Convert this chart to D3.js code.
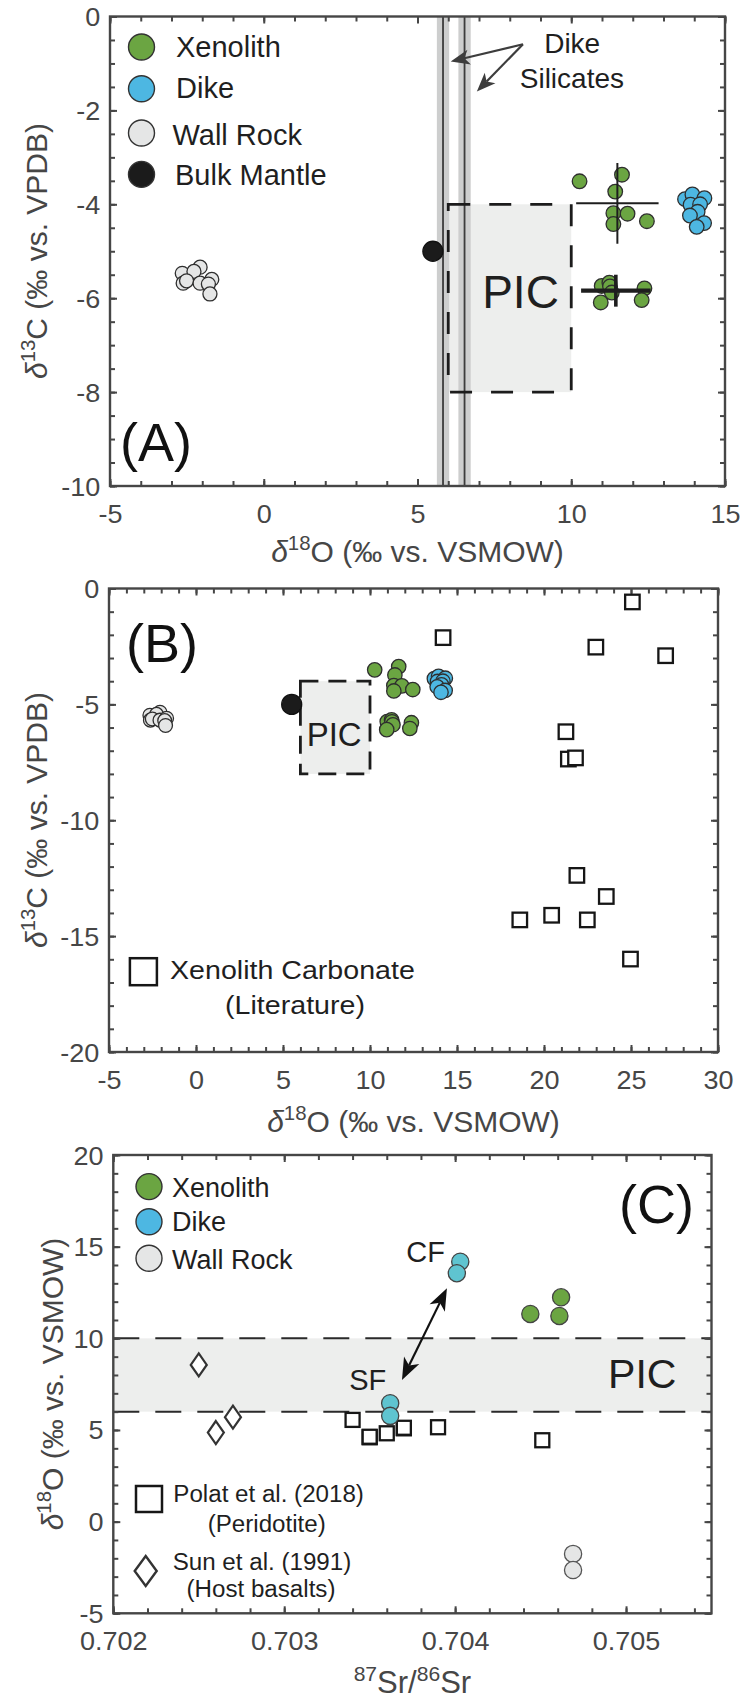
<!DOCTYPE html>
<html>
<head>
<meta charset="utf-8">
<script src="https://cdn.jsdelivr.net/npm/d3@7"></script>
<style>
  html, body { margin: 0; padding: 0; background: #fff; }
  svg { display: block; font-family: "Liberation Sans", Arial, Helvetica, sans-serif; }
</style>
</head>
<body>
<svg id="fig" width="743" height="1702"></svg>
<script>
// ---------------- data ----------------
// Panels A and B: δ18O (‰ vs. VSMOW) against δ13C (‰ vs. VPDB)
const xenolithO = [10.27, 11.65, 11.43, 11.37, 11.83, 11.37, 12.46, 10.99, 11.24, 11.26, 11.32, 10.96, 12.38, 12.29];
const xenolithC = [-3.51, -3.37, -3.73, -4.19, -4.20, -4.42, -4.36, -5.74, -5.67, -5.75, -5.88, -6.09, -5.79, -6.04];
const dikeO = [13.70, 13.94, 14.33, 13.88, 14.19, 14.11, 13.86, 14.32, 14.08];
const dikeC = [-3.89, -3.79, -3.87, -4.01, -4.00, -4.16, -4.24, -4.40, -4.48];
const wallO = [-2.65, -2.07, -2.27, -2.62, -2.51, -2.07, -1.69, -1.80, -1.75];
const wallC = [-5.47, -5.34, -5.43, -5.68, -5.63, -5.68, -5.60, -5.70, -5.91];
const mantleO = [5.5];
const mantleC = [-5.0];
// xenolith group means with ±1 SD bars
const groupMeanO = [11.5, 11.45];
const groupMeanC = [-3.98, -5.84];
const groupSdO = [1.34, 1.13];
const groupSdC = [0.86, 0.34];
// dike silicate δ18O values with their uncertainty
const silicateO = [5.83, 6.53];
const silicateSd = [0.2, 0.2];
// primary igneous carbonate field
const picO = [6, 10];
const picC = [-8, -4];
// literature xenolith carbonates
const litCarbO = [25.08, 14.2, 22.98, 26.99, 21.26, 21.4, 21.81, 21.89, 23.58, 20.44, 18.61, 22.49, 24.97];
const litCarbC = [-0.58, -2.12, -2.53, -2.9, -6.18, -7.36, -7.31, -12.38, -13.29, -14.1, -14.3, -14.3, -15.99];

// Panel C: 87Sr/86Sr against δ18O
const cXenSr = [0.70444, 0.70462, 0.70461];
const cXenO = [11.33, 12.24, 11.22];
const cDikeSr = [0.70403, 0.70401, 0.70362, 0.70362];
const cDikeO = [14.18, 13.55, 6.46, 5.77];
const cWallSr = [0.70469, 0.70469];
const cWallO = [-1.76, -2.64];
const polatSr = [0.70340, 0.70350, 0.70350, 0.70360, 0.70370, 0.70370, 0.70390, 0.70451];
const polatO = [5.55, 4.60, 4.63, 4.82, 5.09, 5.12, 5.15, 4.44];
const sunSr = [0.70250, 0.70260, 0.70270];
const sunO = [8.55, 4.86, 5.70];
const picBandO = [6, 10];

// tick labels
const aXTicks = [-5, 0, 5, 10, 15];
const aYTicks = [-10, -8, -6, -4, -2, 0];
const bXTicks = [-5, 0, 5, 10, 15, 20, 25, 30];
const bYTicks = [-20, -15, -10, -5, 0];
const cXTicks = [0.702, 0.703, 0.704, 0.705];
const cYTicks = [-5, 0, 5, 10, 15, 20];

// ---------------- styles ----------------
const INK = "#464646";
const TXT = "#1f1f1f";
const GREEN = "#6ba542";
const BLUE = "#4db7e2";
const CYAN = "#5fc4d0";
const WALL = "#e5e6e6";
const MANTLE = "#1b1b1b";
const PIC_FILL = "#edeeed";

const svg = d3.select("#fig");

// ---------------- helpers ----------------
function text(g, x, y, str, size, o = {}) {
  let tr = `translate(${x},${y})`;
  if (o.rot) tr += ` rotate(${o.rot})`;
  if (o.sx) tr += ` scale(${o.sx},1)`;
  const t = g.append("text")
    .attr("transform", tr)
    .attr("font-size", size)
    .attr("fill", o.fill || TXT)
    .attr("text-anchor", o.anchor || "start");
  if (str != null) t.text(str);
  return t;
}

function deltaLabel(t, mass, rest) {
  t.append("tspan").attr("font-style", "italic").text("δ");
  t.append("tspan").attr("font-size", "0.68em").attr("dy", -12).text(mass);
  t.append("tspan").attr("dy", 12).text(rest);
}

function steps(lo, hi, step) {
  const n = Math.floor((hi - lo) / step + 1e-6);
  return d3.range(n + 1).map(i => +(lo + i * step).toFixed(6));
}

function frameAxes(g, x, y, majX, stepX, majY, stepY, fmtX) {
  const [xl, xr] = x.range();
  const [yb, yt] = y.range();
  const minX = steps(x.domain()[0], x.domain()[1], stepX);
  const minY = steps(y.domain()[0], y.domain()[1], stepY);
  const put = (gen, tr, vals, size, fmt) => {
    const a = g.append("g").attr("transform", tr)
      .call(gen.tickValues(vals).tickSize(size).tickFormat(fmt || ""));
    a.select(".domain").remove();
    a.selectAll(".tick line").attr("stroke", INK).attr("stroke-width", 2);
    a.attr("font-family", null).attr("font-size", 25);
    a.selectAll("text").attr("fill", INK);
    return a;
  };
  put(d3.axisBottom(x), `translate(0,${yb})`, minX, -5);
  put(d3.axisTop(x), `translate(0,${yt})`, minX, -5);
  put(d3.axisLeft(y), `translate(${xl},0)`, minY, -5);
  put(d3.axisRight(y), `translate(${xr},0)`, minY, -5);
  put(d3.axisTop(x), `translate(0,${yt})`, majX, -7);
  put(d3.axisRight(y), `translate(${xr},0)`, majY, -7);
  const bx = put(d3.axisBottom(x), `translate(0,${yb})`, majX, -7, fmtX || (d => String(d)));
  bx.selectAll("text").attr("y", 37).attr("dy", null).attr("transform", "scale(1.08,1)");
  const ly = put(d3.axisLeft(y), `translate(${xl},0)`, majY, -7, d => String(d));
  ly.selectAll("text").attr("x", -9).attr("dy", "0.36em").attr("transform", "scale(1.08,1)");
  g.append("rect")
    .attr("x", xl).attr("y", yt).attr("width", xr - xl).attr("height", yb - yt)
    .attr("fill", "none").attr("stroke", INK).attr("stroke-width", 2.4);
}

function arrowHead(g, x0, y0, x1, y1, L, W, notch, color) {
  const a = Math.atan2(y1 - y0, x1 - x0);
  const ux = Math.cos(a), uy = Math.sin(a), px = -uy, py = ux;
  const bx = x1 - ux * L, by = y1 - uy * L;
  const nx = x1 - ux * (L - notch), ny = y1 - uy * (L - notch);
  g.append("path")
    .attr("d", d3.line()([[x1, y1], [bx + px * W, by + py * W], [nx, ny], [bx - px * W, by - py * W]]) + "Z")
    .attr("fill", color).attr("stroke", "none");
  return [nx, ny];
}

function zipPts(xs, ys) { return xs.map((v, i) => [v, ys[i]]); }

function circles(g, pts, x, y, r, fill, stroke) {
  g.append("g").selectAll("circle").data(pts).join("circle")
    .attr("cx", d => x(d[0])).attr("cy", d => y(d[1])).attr("r", r)
    .attr("fill", fill).attr("stroke", stroke || "#2e2e2e").attr("stroke-width", 1.3);
}

function squares(g, pts, x, y, s) {
  g.append("g").selectAll("rect").data(pts).join("rect")
    .attr("x", d => x(d[0]) - s / 2).attr("y", d => y(d[1]) - s / 2)
    .attr("width", s).attr("height", s)
    .attr("fill", "#fff").attr("stroke", "#161616").attr("stroke-width", 2.3);
}

function diamondPath(cx, cy, w, h) {
  return d3.line()([[cx, cy - h], [cx + w, cy], [cx, cy + h], [cx - w, cy]]) + "Z";
}

function picBox(g, x, y, dash) {
  const x0 = x(picO[0]), x1 = x(picO[1]), y0 = y(picC[1]), y1 = y(picC[0]);
  g.append("rect").attr("x", x0).attr("y", y0).attr("width", x1 - x0).attr("height", y1 - y0)
    .attr("fill", PIC_FILL);
  return () => g.append("rect").attr("x", x0).attr("y", y0).attr("width", x1 - x0).attr("height", y1 - y0)
    .attr("fill", "none").attr("stroke", "#1c1c1c").attr("stroke-width", 2.8)
    .attr("stroke-dasharray", dash);
}

function oxygenScatter(g, x, y, rSmall, rMantle) {
  circles(g, zipPts(wallO, wallC), x, y, rSmall - 0.3, WALL);
  circles(g, zipPts(mantleO, mantleC), x, y, rMantle, MANTLE, "#111");
  circles(g, zipPts(xenolithO, xenolithC), x, y, rSmall, GREEN);
  circles(g, zipPts(dikeO, dikeC), x, y, rSmall, BLUE);
}

// ================= Panel A =================
{
  const g = svg.append("g");
  const x = d3.scaleLinear([-5, 15], [110, 725]);
  const y = d3.scaleLinear([-10, 0], [486, 16.5]);

  const drawBoxEdge = picBox(g, x, y, "22,19");

  // dike silicate values with uncertainty bands
  silicateO.forEach((v, i) => {
    g.append("rect")
      .attr("x", x(v - silicateSd[i])).attr("y", y(0))
      .attr("width", x(v + silicateSd[i]) - x(v - silicateSd[i])).attr("height", y(-10) - y(0))
      .attr("fill", "#cdcece");
    g.append("line").attr("x1", x(v)).attr("x2", x(v)).attr("y1", y(0)).attr("y2", y(-10))
      .attr("stroke", "#3c3c3c").attr("stroke-width", 1.8);
  });
  drawBoxEdge();

  frameAxes(g, x, y, aXTicks, 1, aYTicks, 0.5);

  text(g, x(8.35), y(-6.2), "PIC", 46, { anchor: "middle" });

  oxygenScatter(g, x, y, 7.3, 10);

  // xenolith group mean ± SD
  groupMeanO.forEach((m, i) => {
    const w = i === 0 ? 2 : 4.2;
    g.append("line").attr("x1", x(m - groupSdO[i])).attr("x2", x(m + groupSdO[i]))
      .attr("y1", y(groupMeanC[i])).attr("y2", y(groupMeanC[i]))
      .attr("stroke", "#1e1e1e").attr("stroke-width", w);
    g.append("line").attr("x1", x(m)).attr("x2", x(m))
      .attr("y1", y(groupMeanC[i] + groupSdC[i])).attr("y2", y(groupMeanC[i] - groupSdC[i]))
      .attr("stroke", "#1e1e1e").attr("stroke-width", i === 0 ? 2 : 3.6);
  });

  // "Dike Silicates" callout
  const src = [x(8.43), y(-0.59)];
  [[6.08, -0.96], [6.93, -1.60]].forEach(([ox, oc]) => {
    const tip = [x(ox), y(oc)];
    const base = arrowHead(g, src[0], src[1], tip[0], tip[1], 19, 7.5, 5, "#3d3d3d");
    g.append("line").attr("x1", src[0]).attr("y1", src[1]).attr("x2", base[0]).attr("y2", base[1])
      .attr("stroke", "#3d3d3d").attr("stroke-width", 2.2);
  });
  text(g, x(10.03), y(-0.78), "Dike", 28, { anchor: "middle" });
  text(g, x(10.02), y(-1.53), "Silicates", 28, { anchor: "middle" });

  // legend
  const legA = [["Xenolith", GREEN, 47, 56.5, 176], ["Dike", BLUE, 88.7, 98, 176],
                ["Wall Rock", WALL, 133, 145, 172.5], ["Bulk Mantle", MANTLE, 174.4, 185, 175]];
  legA.forEach(([lab, col, cy, by, tx]) => {
    g.append("circle").attr("cx", 141.5).attr("cy", cy).attr("r", 13)
      .attr("fill", col).attr("stroke", "#333").attr("stroke-width", 1.4);
    text(g, tx, by, lab, 29);
  });

  text(g, 120, 461, "(A)", 54, { fill: "#111" });

  text(g, 417.5, 562, null, 30, { anchor: "middle", fill: INK }).call(t => deltaLabel(t, "18", "O (‰ vs. VSMOW)"));
  text(g, 47, 251, null, 30, { anchor: "middle", fill: INK, rot: -90 }).call(t => deltaLabel(t, "13", "C (‰ vs. VPDB)"));
}

// ================= Panel B =================
{
  const g = svg.append("g");
  const x = d3.scaleLinear([-5, 30], [109, 718]);
  const y = d3.scaleLinear([-20, 0], [1052, 588.5]);

  const drawBoxEdge = picBox(g, x, y, "18,10");
  drawBoxEdge();

  frameAxes(g, x, y, bXTicks, 1, bYTicks, 1);

  text(g, x(7.94), y(-6.78), "PIC", 33, { anchor: "middle" });

  oxygenScatter(g, x, y, 7.2, 10);
  squares(g, zipPts(litCarbO, litCarbC), x, y, 14.5);

  // legend
  g.append("rect").attr("x", 143.4 - 13.5).attr("y", 971.7 - 13.5).attr("width", 27).attr("height", 27)
    .attr("fill", "#fff").attr("stroke", "#161616").attr("stroke-width", 2.5);
  text(g, 170, 979, "Xenolith Carbonate", 26, { sx: 1.1 });
  text(g, 295, 1014, "(Literature)", 26, { anchor: "middle", sx: 1.1 });

  text(g, 126, 661.7, "(B)", 54, { fill: "#111" });

  text(g, 413.5, 1132, null, 30, { anchor: "middle", fill: INK }).call(t => deltaLabel(t, "18", "O (‰ vs. VSMOW)"));
  text(g, 47, 820, null, 30, { anchor: "middle", fill: INK, rot: -90 }).call(t => deltaLabel(t, "13", "C (‰ vs. VPDB)"));
}

// ================= Panel C =================
{
  const g = svg.append("g");
  const x = d3.scaleLinear([0.702, 0.7055], [113.3, 711.5]);
  const y = d3.scaleLinear([-5, 20], [1613.3, 1155]);
  const [xl, xr] = x.range();

  g.append("rect").attr("x", xl).attr("y", y(picBandO[1])).attr("width", xr - xl)
    .attr("height", y(picBandO[0]) - y(picBandO[1])).attr("fill", PIC_FILL);
  picBandO.forEach(v => {
    g.append("line").attr("x1", xl).attr("x2", xr).attr("y1", y(v)).attr("y2", y(v))
      .attr("stroke", "#2a2a2a").attr("stroke-width", 2).attr("stroke-dasharray", "26,16");
  });

  frameAxes(g, x, y, cXTicks, 0.0002, cYTicks, 1, d3.format(".3f"));

  text(g, x(0.705095), y(7.27), "PIC", 41, { anchor: "middle" });

  squares(g, zipPts(polatSr, polatO), x, y, 14);
  g.append("g").selectAll("path").data(zipPts(sunSr, sunO)).join("path")
    .attr("d", d => diamondPath(x(d[0]), y(d[1]), 8, 11.5))
    .attr("fill", "#fff").attr("stroke", "#333").attr("stroke-width", 2.2);

  circles(g, zipPts(cWallSr, cWallO), x, y, 8.6, WALL, "#555");
  circles(g, zipPts(cXenSr, cXenO), x, y, 8.6, GREEN, "#444");
  circles(g, zipPts(cDikeSr, cDikeO), x, y, 8.6, CYAN, "#444");

  // SF ↔ CF arrow
  const p0 = [x(0.703952), y(12.73)], p1 = [x(0.703689), y(7.73)];
  const b1 = arrowHead(g, p1[0], p1[1], p0[0], p0[1], 22, 8.5, 6, "#111");
  const b0 = arrowHead(g, p0[0], p0[1], p1[0], p1[1], 22, 8.5, 6, "#111");
  g.append("line").attr("x1", b1[0]).attr("y1", b1[1]).attr("x2", b0[0]).attr("y2", b0[1])
    .attr("stroke", "#111").attr("stroke-width", 2.2);
  text(g, x(0.703714), y(14.17), "CF", 29);
  text(g, x(0.70338), y(7.18), "SF", 29);

  // legends
  const legC = [["Xenolith", GREEN, 1186.6, 1197], ["Dike", BLUE, 1221.7, 1231], ["Wall Rock", WALL, 1258.3, 1269]];
  legC.forEach(([lab, col, cy, by]) => {
    g.append("circle").attr("cx", 149).attr("cy", cy).attr("r", 13)
      .attr("fill", col).attr("stroke", "#333").attr("stroke-width", 1.4);
    text(g, 172, by, lab, 27);
  });
  g.append("rect").attr("x", 149 - 13).attr("y", 1499 - 13).attr("width", 26).attr("height", 26)
    .attr("fill", "#fff").attr("stroke", "#161616").attr("stroke-width", 2.5);
  text(g, 173.3, 1502.3, "Polat et al. (2018)", 23, { sx: 1.05 });
  text(g, 266.7, 1531.7, "(Peridotite)", 23, { anchor: "middle", sx: 1.05 });
  g.append("path").attr("d", diamondPath(145.7, 1571, 11, 15))
    .attr("fill", "#fff").attr("stroke", "#333").attr("stroke-width", 2.4);
  text(g, 172.7, 1570, "Sun et al. (1991)", 23, { sx: 1.05 });
  text(g, 261, 1596.7, "(Host basalts)", 23, { anchor: "middle", sx: 1.05 });

  text(g, 694, 1223, "(C)", 54, { anchor: "end", fill: "#111" });

  const xt = text(g, 412.4, 1693, null, 31, { anchor: "middle", fill: INK });
  xt.append("tspan").attr("font-size", "0.68em").attr("dy", -12).text("87");
  xt.append("tspan").attr("dy", 12).text("Sr/");
  xt.append("tspan").attr("font-size", "0.68em").attr("dy", -12).text("86");
  xt.append("tspan").attr("dy", 12).text("Sr");
  text(g, 63, 1384, null, 30, { anchor: "middle", fill: INK, rot: -90 }).call(t => deltaLabel(t, "18", "O (‰ vs. VSMOW)"));
}
</script>
</body>
</html>
